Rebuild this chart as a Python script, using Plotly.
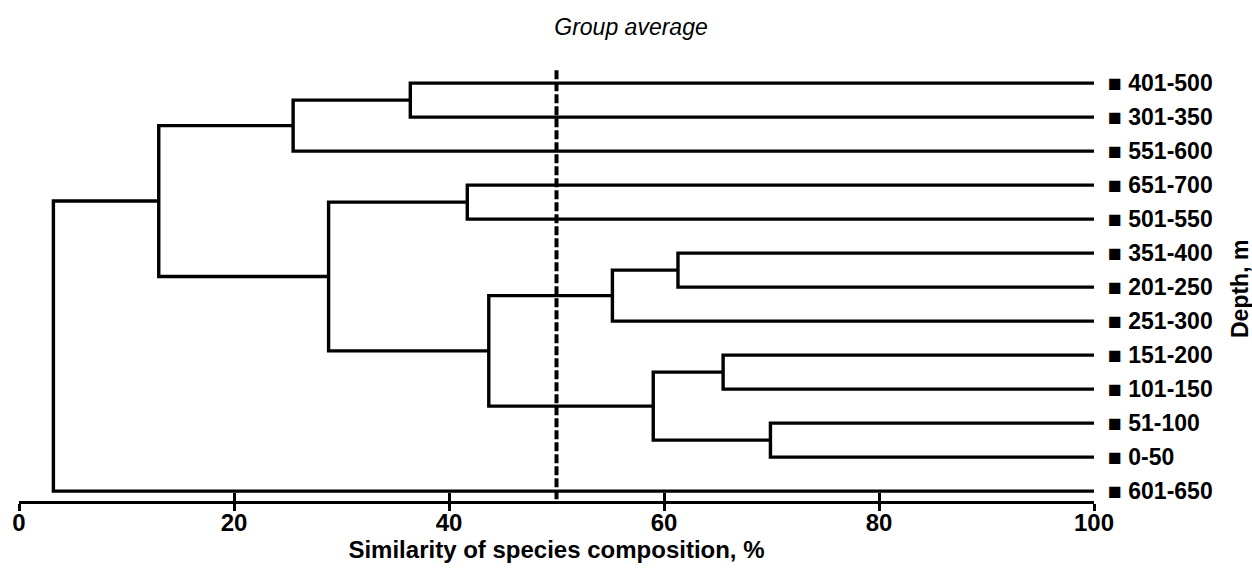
import plotly.graph_objects as go

# ---------------- data ----------------
leaves = ["401-500", "301-350", "551-600", "651-700", "501-550", "351-400",
          "201-250", "251-300", "151-200", "101-150", "51-100", "0-50", "601-650"]

# merges: cluster ids 0..12 are leaves, 13.. are the merges below (in order)
merge_a = [0, 13, 3, 5, 16, 8, 10, 18, 17, 15, 14, 23]
merge_b = [1, 2, 4, 6, 7, 9, 11, 19, 20, 21, 22, 12]
merge_sim = [36.4, 25.5, 41.7, 61.3, 55.2, 65.5, 69.9, 59.0, 43.7, 28.8, 13.0, 3.2]

threshold = 50
x_ticks = [0, 20, 40, 60, 80, 100]

# ---------------- build dendrogram ----------------
node_x = {i: 100.0 for i in range(len(leaves))}
node_y = {i: float(i) for i in range(len(leaves))}

xs, ys = [], []
for k, (a, b, h) in enumerate(zip(merge_a, merge_b, merge_sim)):
    nid = len(leaves) + k
    xs += [node_x[a], h, h, node_x[b], None]
    ys += [node_y[a], node_y[a], node_y[b], node_y[b], None]
    node_x[nid] = h
    node_y[nid] = (node_y[a] + node_y[b]) / 2

FONT = "Liberation Sans, Arial, sans-serif"

fig = go.Figure()
fig.add_trace(go.Scatter(x=xs, y=ys, mode="lines",
                         line=dict(color="black", width=3.4),
                         hoverinfo="skip", showlegend=False))
fig.add_trace(go.Scatter(x=[threshold, threshold], y=[-0.38, 12.3], mode="lines",
                         line=dict(color="black", width=4, dash="9px,3px"),
                         hoverinfo="skip", showlegend=False))
# invisible trace to carry the overlay axis (inward ticks)
fig.add_trace(go.Scatter(x=[0, 100], y=[None, None], xaxis="x2", mode="lines",
                         hoverinfo="skip", showlegend=False))

fig.update_layout(
    width=1252, height=568,
    margin=dict(l=19, r=158, t=60, b=67, autoexpand=False),
    paper_bgcolor="white", plot_bgcolor="white",
    title=dict(text="Group average", x=631 / 1252, xanchor="center",
               yref="container", y=1 - 27 / 568, yanchor="middle",
               font=dict(family=FONT, size=23, color="black", style="italic")),
    xaxis=dict(range=[0, 100], tickvals=x_ticks, ticks="outside", ticklen=7,
               tickwidth=3, tickcolor="black", showline=True, linewidth=3,
               linecolor="black", showgrid=False, zeroline=False, automargin=False,
               ticklabelstandoff=-9,
               tickfont=dict(family=FONT, size=24, color="black", weight="bold"),
               title=dict(text="Similarity of species composition, %", standoff=4,
                          font=dict(family=FONT, size=24, color="black", weight="bold"))),
    xaxis2=dict(range=[0, 100], overlaying="x", anchor="y", side="bottom",
                tickvals=x_ticks, ticks="inside", ticklen=8, tickwidth=3,
                tickcolor="black", showticklabels=False, showline=False,
                showgrid=False, zeroline=False, automargin=False),
    yaxis=dict(range=[12.29, -0.68], side="right", tickvals=list(range(len(leaves))),
               ticktext=["\u25A0 " + s for s in leaves], ticks="", showline=False,
               showgrid=False, zeroline=False, ticklabelstandoff=13, automargin=False,
               tickfont=dict(family=FONT, size=23, color="black", weight="bold")),
    annotations=[dict(text="Depth, m", textangle=-90, xref="paper", yref="paper",
                      x=(1240 - 19) / 1075, y=(501 - 289) / 441,
                      xanchor="center", yanchor="middle", showarrow=False,
                      font=dict(family=FONT, size=23, color="black", weight="bold"))],
)

fig.write_html("out.html", config={"displayModeBar": False},
               post_script="document.body.style.margin='0';document.body.style.overflow='hidden';")
